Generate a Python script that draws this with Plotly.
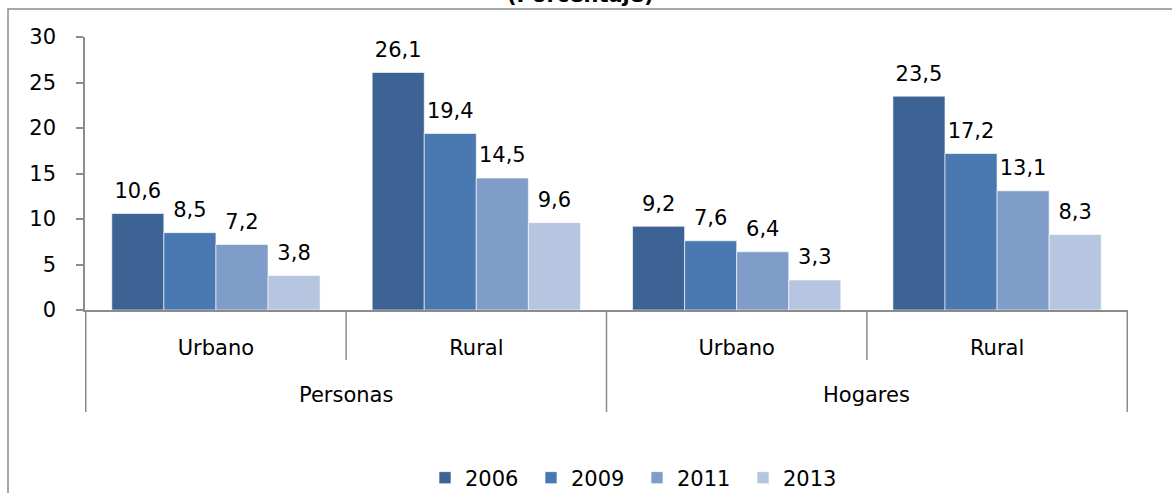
import plotly.graph_objects as go

# categorias (nivel externo / interno) y valores por año
grupos = ['Personas', 'Personas', 'Hogares', 'Hogares']
zonas = ['Urbano', 'Rural', 'Urbano', 'Rural']
anios = ['2006', '2009', '2011', '2013']
valores = {
    '2006': [10.6, 26.1, 9.2, 23.5],
    '2009': [8.5, 19.4, 7.6, 17.2],
    '2011': [7.2, 14.5, 6.4, 13.1],
    '2013': [3.8, 9.6, 3.3, 8.3],
}
colores = ['rgb(60,99,148)', 'rgb(74,121,177)', 'rgb(127,157,200)', 'rgb(182,197,224)']

# claves unicas para el eje de categorias
claves = [g + ' - ' + z for g, z in zip(grupos, zonas)]

fuente = 'DejaVu Sans'
fs = 21
gris = 'rgb(140,140,140)'

fig = go.Figure()
for anio, color in zip(anios, colores):
    fig.add_trace(go.Bar(
        x=claves, y=valores[anio], name=anio,
        marker=dict(color=color, line=dict(color='rgba(255,255,255,0.6)', width=1)),
    ))
# etiquetas de datos (agrupadas igual que las barras)
for anio in anios:
    fig.add_trace(go.Scatter(
        x=claves, y=valores[anio], mode='markers+text', showlegend=False,
        marker=dict(size=15, color='rgba(0,0,0,0)'),
        texttemplate='%{y:.1f}', textposition='top center', cliponaxis=False,
        textfont=dict(family=fuente, size=fs, color='black'), hoverinfo='skip',
    ))

# plot area: x 85..1128, y 37..310
W, H = 1172, 493
L, R, T, B = 85, W - 1128, 37, H - 310
pw, ph = W - L - R, H - T - B

shapes = []
# divisiones del eje de categorías
for xv in [-0.5, 1.5, 3.5]:
    shapes.append(dict(type='line', xref='x', yref='paper', x0=xv, x1=xv,
                       y0=0, y1=-(412 - 310) / ph, line=dict(color=gris, width=1.5)))
for xv in [0.5, 2.5]:
    shapes.append(dict(type='line', xref='x', yref='paper', x0=xv, x1=xv,
                       y0=0, y1=-(360 - 310) / ph, line=dict(color=gris, width=1.5)))
# marco del gráfico
shapes.append(dict(type='rect', xref='paper', yref='paper', layer='below',
                   x0=(8 - L) / pw, x1=(1180 - L) / pw,
                   y0=-(505 - 310) / ph, y1=1 + (T - 9) / ph,
                   line=dict(color=gris, width=1.5), fillcolor='rgba(0,0,0,0)'))

annotations = []
# nivel externo de categorias
for g, xv in [(grupos[0], 0.5), (grupos[2], 2.5)]:
    annotations.append(dict(text=g, xref='x', yref='paper', x=xv, y=-(395 - 310) / ph,
                            xanchor='center', yanchor='middle', showarrow=False,
                            font=dict(family=fuente, size=fs, color='black')))
# titulo (cortado en el borde superior)
annotations.append(dict(text='<b>(Porcentaje)</b>', xref='paper', yref='paper',
                        x=(580 - L) / pw, y=1 + (T + 5) / ph, xanchor='center',
                        yanchor='middle', showarrow=False,
                        font=dict(family=fuente, size=fs, color='black')))

fig.update_layout(
    width=W, height=H,
    margin=dict(l=L, r=R, t=T, b=B, autoexpand=False),
    paper_bgcolor='white', plot_bgcolor='white',
    separators=',.',
    barmode='group', bargap=0.2, bargroupgap=0,
    scattermode='group', scattergap=0.2,
    font=dict(family=fuente, size=fs, color='black'),
    showlegend=True,
    legend=dict(orientation='h', x=(441 - 16 - L) / pw, xanchor='left',
                y=-(478 - 310) / ph, yanchor='middle',
                font=dict(family=fuente, size=fs), entrywidth=61,
                itemwidth=30),
    shapes=shapes,
    annotations=annotations,
)
fig.update_xaxes(showline=True, linecolor=gris, linewidth=1.5,
                 tickvals=claves, ticktext=zonas, ticks='', ticklabelstandoff=18,
                 tickfont=dict(family=fuente, size=fs), showgrid=False)
fig.update_yaxes(range=[0, 30], dtick=5, showline=True, linecolor=gris, linewidth=1.5,
                 ticks='outside', ticklen=7, tickcolor=gris, tickwidth=1.5,
                 ticklabelstandoff=16,
                 showgrid=False, zeroline=False, tickfont=dict(family=fuente, size=fs))

fig.write_html('out.html', config={'displayModeBar': False},
               post_script="document.body.style.margin='0';")
